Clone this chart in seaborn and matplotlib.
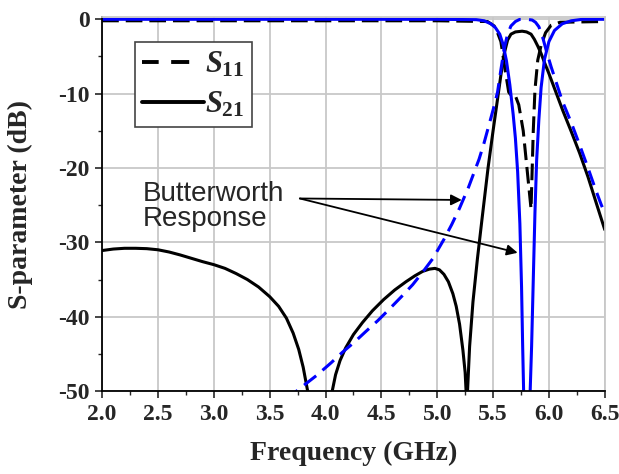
import matplotlib
matplotlib.use('Agg')
import matplotlib.pyplot as plt
import seaborn as sns
from matplotlib.lines import Line2D
from matplotlib.ticker import MultipleLocator

# measured S21 (black solid)
f_s21 = [2.0, 2.1, 2.2, 2.3, 2.4, 2.5, 2.6, 2.7, 2.8, 2.9, 3.0, 3.1, 3.2, 3.3, 3.4, 3.5, 3.58,
         3.65, 3.71, 3.76, 3.80, 3.84, 3.88, 3.95, 4.02, 4.06, 4.09, 4.13, 4.18, 4.25, 4.33,
         4.42, 4.52, 4.62, 4.72, 4.80, 4.87, 4.93, 4.98, 5.02, 5.06, 5.10, 5.14, 5.17, 5.20,
         5.23, 5.25, 5.265, 5.29, 5.32, 5.36, 5.40, 5.455, 5.50, 5.53, 5.57, 5.60, 5.63,
         5.66, 5.70, 5.76, 5.80, 5.84, 5.87, 5.90, 5.93, 5.96, 6.0, 6.06, 6.125, 6.2, 6.275,
         6.35, 6.43, 6.5]
s21 = [-31.1, -30.9, -30.8, -30.8, -30.85, -31.0, -31.3, -31.7, -32.15, -32.6, -33.0, -33.5,
       -34.2, -35.0, -36.0, -37.3, -38.6, -40.2, -42.2, -44.4, -46.8, -50.0, -55.0, -62.0,
       -55.0, -50.0, -47.8, -45.9, -44.2, -42.4, -40.8, -39.2, -37.7, -36.4, -35.3, -34.5,
       -33.9, -33.6, -33.5, -33.7, -34.3, -35.3, -36.9, -38.6, -41.0, -44.5, -47.5, -52.0,
       -44.0, -38.0, -32.2, -27.0, -20.0, -15.0, -11.8, -7.5, -4.6, -2.8, -2.0, -1.7, -1.6,
       -1.7, -2.0, -2.7, -3.6, -4.6, -5.8, -7.3, -9.7, -12.3, -15.1, -18.0, -21.2, -25.0,
       -28.3]

# measured S11 (black dashed)
f_s11 = [2.0, 3.0, 4.0, 5.0, 5.45, 5.52, 5.57, 5.61, 5.64, 5.67, 5.70, 5.73, 5.77, 5.80, 5.84,
         5.86, 5.875, 5.90, 5.93, 5.97, 6.02, 6.1, 6.5]
s11 = [-0.2, -0.2, -0.2, -0.2, -0.3, -1.0, -3.0, -7.0, -9.8, -10.4, -10.3, -11.5, -15.0, -19.5,
       -25.5, -15.0, -9.5, -5.5, -3.5, -1.8, -0.8, -0.4, -0.3]

# Butterworth S21 (blue dashed)
f_bw21 = [3.65, 3.70, 3.80, 3.92, 4.05, 4.15, 4.26, 4.36, 4.47, 4.57, 4.68, 4.78, 4.87, 4.96,
          5.06, 5.13, 5.20, 5.28, 5.33, 5.375, 5.42, 5.46, 5.50, 5.54, 5.57, 5.60, 5.63, 5.66,
          5.70, 5.74, 5.80, 5.85, 5.88, 5.91, 5.94, 5.98, 6.02, 6.07, 6.12, 6.2, 6.27, 6.35,
          6.42, 6.47, 6.5]
bw21 = [-51.3, -50.5, -49.3, -47.9, -46.2, -44.8, -43.4, -42.0, -40.5, -39.0, -37.3, -35.7,
        -34.0, -32.2, -29.6, -27.6, -25.4, -22.6, -20.6, -18.8, -16.6, -14.4, -12.2, -9.8,
        -6.8, -3.9, -2.0, -0.9, -0.3, 0.0, 0.0, -0.1, -0.4, -1.0, -2.2, -4.4, -6.4, -8.7,
        -11.0, -13.9, -16.7, -20.0, -23.0, -25.0, -26.0]

# Butterworth S11 (blue solid)
f_bw11 = [2.0, 3.0, 4.0, 5.0, 5.35, 5.42, 5.48, 5.52, 5.56, 5.59, 5.62, 5.65, 5.68, 5.70, 5.72,
          5.74, 5.755, 5.765, 5.775, 5.80, 5.83, 5.845, 5.86, 5.875, 5.89, 5.91, 5.93, 5.96,
          6.0, 6.05, 6.12, 6.2, 6.3, 6.5]
bw11 = [0.0, 0.0, 0.0, 0.0, -0.05, -0.2, -0.6, -1.1, -2.0, -3.4, -5.6, -8.8, -12.8, -16.0,
        -20.5, -27.5, -36.0, -44.0, -51.0, -62.0, -51.0, -44.0, -35.0, -26.0, -19.0, -13.5,
        -9.2, -5.4, -3.0, -1.5, -0.6, -0.2, 0.0, 0.0]

x_ticks = [2.0, 2.5, 3.0, 3.5, 4.0, 4.5, 5.0, 5.5, 6.0, 6.5]
y_ticks = [0, -10, -20, -30, -40, -50]

sns.set_style('white')
plt.rcParams['font.family'] = ['Liberation Serif', 'DejaVu Serif']
plt.rcParams['font.weight'] = 'bold'
plt.rcParams['mathtext.fontset'] = 'custom'
plt.rcParams['mathtext.it'] = 'Liberation Serif:italic:bold'
plt.rcParams['mathtext.rm'] = 'Liberation Serif:bold'
plt.rcParams['lines.scale_dashes'] = False

fig = plt.figure(figsize=(6.19, 4.74), dpi=100)
ax = fig.add_axes([0.165, 0.175, 0.812, 0.789])

lw = 2.2
sns.lineplot(x=f_s21, y=s21, ax=ax, color='black', lw=lw, estimator=None, sort=False)
sns.lineplot(x=f_s11, y=s11, ax=ax, color='black', lw=lw, linestyle=(0, (12, 5)),
             estimator=None, sort=False)
sns.lineplot(x=f_bw11, y=bw11, ax=ax, color='#0000ff', lw=lw, estimator=None, sort=False)
sns.lineplot(x=f_bw21, y=bw21, ax=ax, color='#0000ff', lw=lw, linestyle=(0, (11, 6)),
             estimator=None, sort=False)

ax.set_xlim(2.0, 6.5)
ax.set_ylim(-50, 0.3)
ax.set_xticks(x_ticks)
ax.set_xticklabels([f'{v:.1f}' for v in x_ticks])
ax.set_yticks(y_ticks)
ax.set_yticklabels([str(v) for v in y_ticks])
ax.xaxis.set_minor_locator(MultipleLocator(0.25))
ax.yaxis.set_minor_locator(MultipleLocator(5))
ax.grid(True, which='major', color='#c8c8c8', lw=1.3)
ax.tick_params(axis='both', which='major', direction='out', length=5, width=1.2,
               labelsize=17, pad=4, bottom=True, left=True)
ax.tick_params(axis='both', which='minor', direction='out', length=3, width=1.0,
               bottom=True, left=True)
for s in ['left', 'bottom']:
    ax.spines[s].set_color('black')
    ax.spines[s].set_linewidth(1.3)
for s in ['top', 'right']:
    ax.spines[s].set_color('#c8c8c8')
    ax.spines[s].set_linewidth(1.3)

ax.set_xlabel('Frequency (GHz)', fontsize=20, fontweight='bold', labelpad=12)
ax.set_ylabel('S-parameter (dB)', fontsize=20, fontweight='bold', labelpad=18)

handles = [Line2D([], [], color='black', lw=2.8, dashes=(12, 9, 13, 11, 2, 4)),
           Line2D([], [], color='black', lw=2.8)]
leg = ax.legend(handles, [r'$S_{11}$', r'$S_{21}$'], loc='upper left',
                bbox_to_anchor=(0.065, 0.933), borderaxespad=0, fontsize=22,
                handlelength=2.0, handletextpad=0.05, labelspacing=0.35,
                borderpad=0.25, fancybox=False, framealpha=1)
leg.get_frame().set_edgecolor('#444444')
leg.get_frame().set_linewidth(1.2)

ax.text(2.36, -27.8, 'Butterworth\nResponse', family='Liberation Sans', fontweight='normal',
        fontsize=20, ha='left', va='baseline', linespacing=0.95)
for hx, hy in [(5.22, -24.3), (5.72, -31.4)]:
    ax.annotate('', xy=(hx, hy), xytext=(3.77, -24.1),
                arrowprops=dict(arrowstyle='-|>', mutation_scale=16, lw=1.3,
                                color='black', shrinkA=0, shrinkB=0))

fig.savefig('out.png', dpi=100)
